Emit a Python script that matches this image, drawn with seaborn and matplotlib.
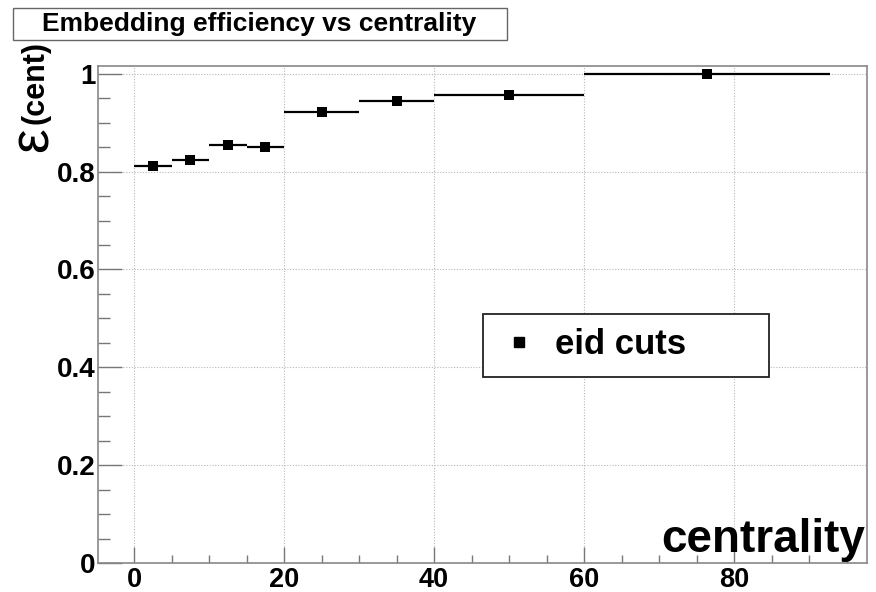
import matplotlib
matplotlib.use("Agg")
import numpy as np
import pandas as pd
import matplotlib.pyplot as plt
import seaborn as sns
from matplotlib.patches import Rectangle
from matplotlib.lines import Line2D
from matplotlib.ticker import MultipleLocator, FuncFormatter

# ---- data ----
bin_low = [0, 5, 10, 15, 20, 30, 40, 60]
bin_high = [5, 10, 15, 20, 30, 40, 60, 92.8]
efficiency = [0.812, 0.823, 0.855, 0.850, 0.921, 0.944, 0.957, 1.000]
series_label = "eid cuts"
title_text = "Embedding efficiency vs centrality"
x_label = "centrality"
y_label_sym = "ε"
y_label_sub = "(cent)"
x_ticks = [0, 20, 40, 60, 80]
y_ticks = [0, 0.2, 0.4, 0.6, 0.8, 1.0]

df = pd.DataFrame({"lo": bin_low, "hi": bin_high, "eff": efficiency})
df["center"] = (df["lo"] + df["hi"]) / 2

sns.set_theme(style="white")
plt.rcParams['font.family'] = ['Liberation Sans', 'DejaVu Sans']
plt.rcParams['text.color'] = 'black'

W, H = 876, 592
fig = plt.figure(figsize=(W / 100, H / 100), dpi=100)
fig.patch.set_facecolor("white")

def fx(px):
    return px / W

def fy(py):
    return 1 - py / H

ax = fig.add_axes([fx(98), fy(563), fx(867) - fx(98), fy(66) - fy(563)])
ax.set_facecolor("white")
ax.set_xlim(-4.8, 97.7)
ax.set_ylim(0, 1.016)

ax.grid(True, which="major", linestyle=(0, (1, 1.5)), color="#b8b8b8", lw=0.8)
ax.set_axisbelow(True)

ax.hlines(df["eff"], df["lo"], df["hi"], colors="black", lw=1.6, zorder=3)
sns.scatterplot(data=df, x="center", y="eff", marker="s", s=52, color="black",
                edgecolor="black", linewidth=0, ax=ax, zorder=4, legend=False)
ax.set_xlabel("")
ax.set_ylabel("")

ax.set_xticks(x_ticks)
ax.set_yticks(y_ticks)
ax.xaxis.set_minor_locator(MultipleLocator(5))
ax.yaxis.set_minor_locator(MultipleLocator(0.05))
ax.yaxis.set_major_formatter(FuncFormatter(lambda v, p: f"{v:g}"))

ax.tick_params(axis="x", which="major", direction="in", length=11.5, width=1,
               color="#777777", labelsize=19.5, labelcolor="black", pad=3, bottom=True)
ax.tick_params(axis="x", which="minor", direction="in", length=5.8, width=1,
               color="#777777", bottom=True)
ax.tick_params(axis="y", which="major", direction="in", length=17, width=1,
               color="#777777", labelsize=20, labelcolor="black", pad=2, left=True)
ax.tick_params(axis="y", which="minor", direction="in", length=8.5, width=1,
               color="#777777", left=True)
for lbl in ax.get_xticklabels() + ax.get_yticklabels():
    lbl.set_fontweight("bold")

for s in ax.spines.values():
    s.set_color("#888888")
    s.set_linewidth(1.2)

# title box
fig.patches.append(Rectangle((fx(13), fy(40)), fx(507) - fx(13), fy(8) - fy(40),
                             transform=fig.transFigure, fill=False,
                             edgecolor="#666666", lw=1))
fig.text(fx(259), fy(24), title_text, ha="center", va="center",
         fontsize=19, fontweight="bold", color="black")

# y label
fig.text(fx(36), fy(83), y_label_sub, rotation=90, ha="center", va="center",
         fontsize=22, fontweight="bold", color="black")
fig.text(fx(34), fy(140), y_label_sym, rotation=90, ha="center", va="center",
         fontsize=40, color="black")

# x label
fig.text(fx(865), fy(552), x_label, ha="right", va="baseline",
         fontsize=33, fontweight="bold", color="black")

# legend
ax.add_patch(Rectangle((fx(483), fy(377)), fx(769) - fx(483), fy(314) - fy(377),
                       transform=fig.transFigure, fill=True, facecolor="white",
                       edgecolor="#222222", lw=1.3, zorder=5, clip_on=False))
handle = Line2D([], [], marker="s", ls="none", color="black", markersize=7)
leg = ax.legend(handles=[handle], labels=[series_label], loc="center left",
                bbox_to_anchor=(fx(484), fy(345)), bbox_transform=fig.transFigure,
                frameon=False, borderpad=0, handlelength=1.0, handletextpad=0.55,
                prop={"weight": "bold", "size": 25})
for t in leg.get_texts():
    t.set_color("black")
leg.set_zorder(6)

fig.savefig("out.png", dpi=100)
